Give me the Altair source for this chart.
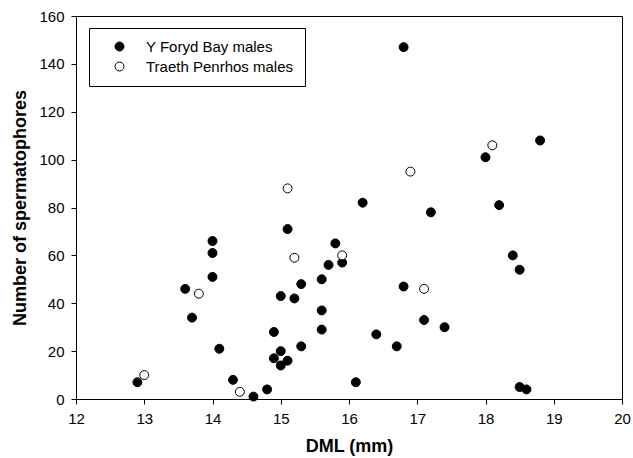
import altair as alt
import pandas as pd

# Y Foryd Bay males (filled)
foryd_dml = [12.9, 13.6, 13.7, 14.0, 14.0, 14.0, 14.1, 14.3, 14.6, 14.8,
             14.9, 14.9, 15.0, 15.0, 15.1, 15.1, 15.0, 15.2, 15.3, 15.3,
             15.6, 15.6, 15.6, 15.7, 15.8, 15.9, 16.1, 16.2, 16.4, 16.7,
             16.8, 16.8, 17.1, 17.2, 17.4, 18.0, 18.2, 18.4, 18.5, 18.5,
             18.6, 18.8]
foryd_sp = [7, 46, 34, 66, 61, 51, 21, 8, 1, 4,
            28, 17, 20, 14, 16, 71, 43, 42, 48, 22,
            50, 37, 29, 56, 65, 57, 7, 82, 27, 22,
            147, 47, 33, 78, 30, 101, 81, 60, 54, 5,
            4, 108]

# Traeth Penrhos males (open)
penrhos_dml = [13.0, 13.8, 14.4, 15.1, 15.2, 15.9, 16.9, 17.1, 18.1]
penrhos_sp = [10, 44, 3, 88, 59, 60, 95, 46, 106]

groups = ["Y Foryd Bay males", "Traeth Penrhos males"]
x_ticks = list(range(12, 21))
y_ticks = list(range(0, 161, 20))

n1, n2 = len(foryd_dml), len(penrhos_dml)
df = pd.DataFrame({
    "dml": foryd_dml + penrhos_dml,
    "sp": foryd_sp + penrhos_sp,
    "group": [groups[0]] * n1 + [groups[1]] * n2,
    "ord": list(range(n1 + n2)),
})

FONT = "Liberation Sans"

chart = alt.Chart(df).mark_point(
    filled=True, shape="circle", size=80, stroke="black", strokeWidth=1,
    opacity=1, fillOpacity=1, strokeOpacity=1
).encode(
    x=alt.X("dml:Q", scale=alt.Scale(domain=[12, 20], nice=False, zero=False),
            axis=alt.Axis(values=x_ticks, title="DML (mm)", format="d",
                          labelFlush=False, labelOverlap=False)),
    y=alt.Y("sp:Q", scale=alt.Scale(domain=[0, 160], nice=False),
            axis=alt.Axis(values=y_ticks, title="Number of spermatophores", format="d",
                          labelFlush=False, labelOverlap=False)),
    fill=alt.Fill("group:N", scale=alt.Scale(domain=groups, range=["black", "white"]),
                  legend=alt.Legend(title=None, orient="none", legendX=13, legendY=12,
                                    padding=11, symbolOffset=12, labelOffset=19,
                                    rowPadding=4, strokeColor="black", fillColor="white",
                                    symbolType="circle", symbolSize=80,
                                    symbolStrokeColor="black", symbolStrokeWidth=1,
                                    symbolOpacity=1,
                                    labelFont=FONT, labelFontSize=15, labelColor="black")),
    order=alt.Order("ord:Q"),
).properties(
    width=546, height=383,
    autosize=alt.AutoSizeParams(type="none"),
    padding={"left": 76, "top": 16, "right": 11, "bottom": 59},
).configure_view(
    stroke="black", strokeWidth=1
).configure_axis(
    grid=False, domainColor="black", domainWidth=1, tickColor="black", tickSize=5,
    tickWidth=1, labelFont=FONT, labelFontSize=15, labelColor="black", labelPadding=7,
    titleFont=FONT, titleFontSize=18, titleFontWeight="bold", titleColor="black",
).configure_axisX(titlePadding=11).configure_axisY(titlePadding=9)

chart.save("out.html", embed_options={"renderer": "svg", "actions": False})
